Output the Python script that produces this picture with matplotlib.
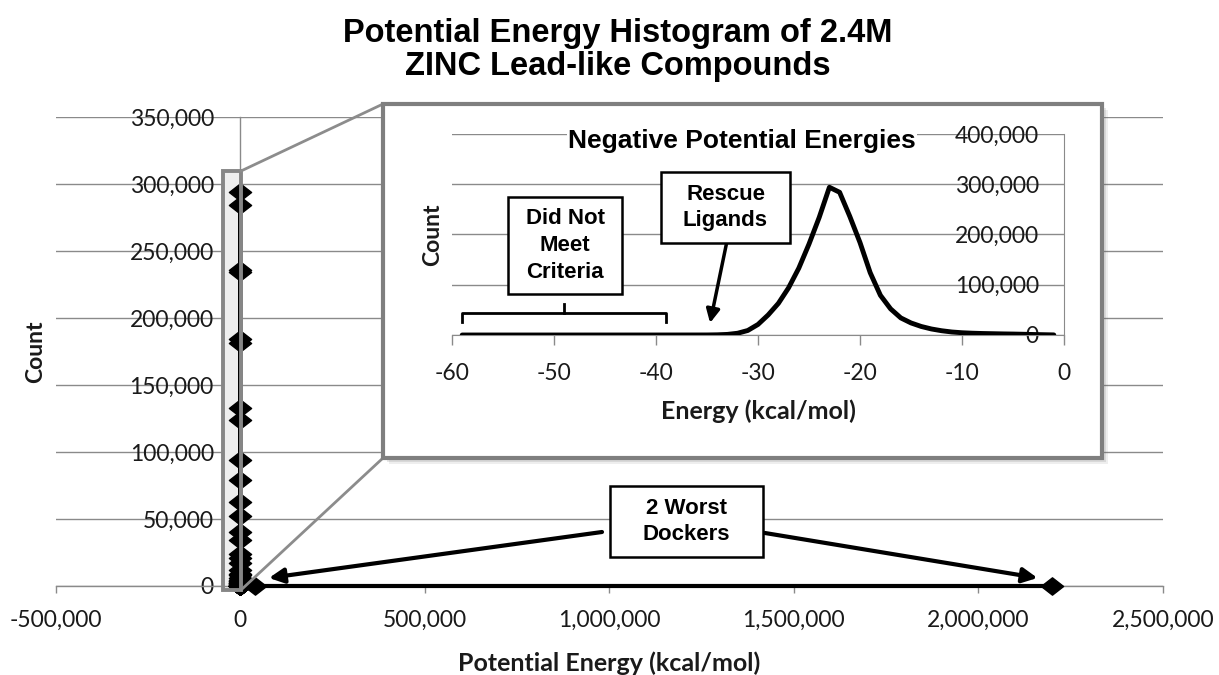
import matplotlib
matplotlib.use("Agg")
import matplotlib.pyplot as plt
from matplotlib.patches import Rectangle
from matplotlib.lines import Line2D
from matplotlib.path import Path

# ---------------- data ----------------
energy_bins = list(range(-59, 0))          # kcal/mol bin centres, -59 ... -1
counts = [
    2, 1, 3, 2, 4, 3, 5, 4, 6, 5, 8, 7,          # -59 .. -48
    9, 10, 12, 14, 15, 18, 20, 25, 30, 40, 50, 70,   # -47 .. -36
    100, 400, 1200, 3500, 9000, 21000, 40000, 63000, 94000, 133000,  # -35 .. -26
    181000, 234000, 294000, 284000, 236000, 184000, 124000, 79000,   # -25 .. -18
    52000, 34000, 24000, 17000, 12000, 8500, 6000, 4500, 3600, 3000,  # -17 .. -8
    2600, 2200, 1900, 1500, 1000, 600, 200                           # -7 .. -1
]
worst_energies = [40000, 2200000]
worst_counts = [1, 1]

main_xticks = [-500000, 0, 500000, 1000000, 1500000, 2000000, 2500000]
main_yticks = [0, 50000, 100000, 150000, 200000, 250000, 300000, 350000]
inset_xticks = [-60, -50, -40, -30, -20, -10, 0]
inset_yticks = [0, 100000, 200000, 300000, 400000]

title = "Potential Energy Histogram of 2.4M\nZINC Lead-like Compounds"
inset_title = "Negative Potential Energies"

# ---------------- layout helpers ----------------
W, H = 1219, 675
fig = plt.figure(figsize=(W / 100, H / 100), dpi=100)
fig.patch.set_facecolor("white")


def fx(p):
    return p / W


def fy(p):
    return 1 - p / H


GRID = "#8a8a8a"
TXT = "#1a1a1a"
LAB_FONT = ["Lato", "DejaVu Sans"]
ARIAL = ["Liberation Sans", "DejaVu Sans"]
ANN_SIZE = 16
ANN_LS = 1.35

diamond = Path([(-1, 0), (0, 0.78), (1, 0), (0, -0.78), (-1, 0)],
               [Path.MOVETO, Path.LINETO, Path.LINETO, Path.LINETO, Path.CLOSEPOLY])

# ---------------- main axes ----------------
L, R, T, B = 55.6, 1163, 117, 586
ax = fig.add_axes([fx(L), fy(B), fx(R) - fx(L), fy(T) - fy(B)], zorder=0)
ax.set_xlim(main_xticks[0], main_xticks[-1])
ax.set_ylim(main_yticks[0], main_yticks[-1])
ax.set_xticks(main_xticks)
ax.set_yticks(main_yticks)
ax.set_xticklabels([f"{v:,}" for v in main_xticks])
ax.set_yticklabels([f"{v:,}" for v in main_yticks])
for s in ["top", "right"]:
    ax.spines[s].set_visible(False)
ax.spines["left"].set_position(("data", 0))
ax.spines["left"].set_color(GRID)
ax.spines["bottom"].set_color(GRID)
ax.spines["left"].set_linewidth(1)
ax.spines["bottom"].set_linewidth(1)
ax.tick_params(axis="y", length=0, pad=19, labelsize=16.5, labelcolor=TXT)
ax.tick_params(axis="x", length=5, width=1, color=GRID, pad=12, labelsize=16.5, labelcolor=TXT)
for lab in ax.get_xticklabels() + ax.get_yticklabels():
    lab.set_family(LAB_FONT)
ax.yaxis.grid(True, color=GRID, lw=1)
ax.set_axisbelow(True)

ax.set_xlabel("Potential Energy (kcal/mol)", fontsize=18, fontweight="bold",
              family=LAB_FONT, color=TXT)
ax.xaxis.set_label_coords(0.5, (B - 663) / (B - T))
ax.xaxis.label.set_va("center")
ax.set_ylabel("Count", fontsize=16.5, fontweight="bold", family=LAB_FONT, color=TXT)
ax.yaxis.set_label_coords((36 - L) / (R - L), 0.5)
ax.yaxis.label.set_va("center")

# zoom-indicator box (fill)
zb = Rectangle((-46000, -3000), 48000, 312700, facecolor="#eeeeee",
               edgecolor="none", zorder=1.5, clip_on=False)
ax.add_patch(zb)

# main series
x_all = energy_bins + worst_energies
y_all = counts + worst_counts
ax.plot(x_all, y_all, color="black", lw=3, marker=diamond, ms=16,
        markerfacecolor="black", markeredgecolor="black", zorder=3, clip_on=False)

zb_edge = Rectangle((-46000, -3000), 48000, 312700, facecolor="none",
                    edgecolor="#868686", lw=2.8, zorder=4, clip_on=False)
ax.add_patch(zb_edge)

# "2 Worst Dockers" annotation
arrow_kw = dict(arrowstyle="-|>", lw=3, color="black", mutation_scale=22,
                shrinkA=0, shrinkB=0)
ax.annotate("", xy=(78000, 6000), xytext=(fx(602), fy(532)),
            textcoords="figure fraction", arrowprops=arrow_kw, zorder=5)
ax.annotate("", xy=(2160000, 6000), xytext=(fx(765), fy(533)),
            textcoords="figure fraction", arrowprops=arrow_kw, zorder=5)
fig.add_artist(Rectangle((fx(610), fy(557)), fx(763) - fx(610), fy(486) - fy(557),
                         transform=fig.transFigure, facecolor="white",
                         edgecolor="black", lw=1.8, zorder=2))
fig.text(fx(686.5), fy(521.5), "2 Worst\nDockers", ha="center", va="center",
         fontsize=ANN_SIZE, fontweight="bold", family=ARIAL, linespacing=ANN_LS, zorder=3)

# title
fig.text(fx(618), fy(50), title, ha="center", va="center", fontsize=23.5,
         fontweight="bold", family=ARIAL, linespacing=1.12, color="black")

# connector lines from zoom box to inset
fig.add_artist(Line2D([fx(241), fx(383)], [fy(171), fy(104)], transform=fig.transFigure,
                      color="#8c8c8c", lw=2, zorder=2))
fig.add_artist(Line2D([fx(241), fx(383)], [fy(590), fy(458)], transform=fig.transFigure,
                      color="#8c8c8c", lw=2, zorder=2))

# inset frame with soft shadow
bx0, bx1, by0, by1 = 383, 1102, 104, 458
for off, a in [(6, 0.10), (4, 0.15), (2, 0.25)]:
    fig.add_artist(Rectangle((fx(bx0 + off), fy(by1 + off)), fx(bx1) - fx(bx0),
                             fy(by0) - fy(by1), transform=fig.transFigure,
                             facecolor="#606060", edgecolor="none", alpha=a, zorder=4))
fig.add_artist(Rectangle((fx(bx0), fy(by1)), fx(bx1) - fx(bx0), fy(by0) - fy(by1),
                         transform=fig.transFigure, facecolor="white",
                         edgecolor="#7f7f7f", lw=3, zorder=5))

# ---------------- inset axes ----------------
iL, iR, iT, iB = 452, 1064, 134, 335
ax2 = fig.add_axes([fx(iL), fy(iB), fx(iR) - fx(iL), fy(iT) - fy(iB)], zorder=6)
ax2.patch.set_alpha(0)
ax2.set_xlim(inset_xticks[0], inset_xticks[-1])
ax2.set_ylim(inset_yticks[0], inset_yticks[-1])
ax2.set_xticks(inset_xticks)
ax2.set_yticks(inset_yticks)
ax2.set_xticklabels([f"{v}" for v in inset_xticks])
ax2.set_yticklabels([f"{v:,}" for v in inset_yticks])
for s in ["top", "right"]:
    ax2.spines[s].set_visible(False)
ax2.spines["left"].set_position(("data", 0))
ax2.spines["left"].set_color(GRID)
ax2.spines["bottom"].set_color(GRID)
ax2.tick_params(axis="y", length=0, pad=18, labelsize=16.5, labelcolor=TXT)
ax2.tick_params(axis="x", length=7, width=1, color=GRID, pad=13, labelsize=16.5, labelcolor=TXT)
for lab in ax2.get_xticklabels() + ax2.get_yticklabels():
    lab.set_family(LAB_FONT)
ax2.yaxis.grid(True, color=GRID, lw=1)
ax2.set_axisbelow(True)

ax2.plot(energy_bins, counts, color="black", lw=3.5, solid_joinstyle="round",
         solid_capstyle="round", zorder=3)

ax2.set_xlabel("Energy (kcal/mol)", fontsize=18, fontweight="bold", family=LAB_FONT, color=TXT)
ax2.xaxis.set_label_coords(0.5, (iB - 411) / (iB - iT))
ax2.xaxis.label.set_va("center")
ax2.set_ylabel("Count", fontsize=16.5, fontweight="bold", family=LAB_FONT, color=TXT)
ax2.yaxis.set_label_coords((433 - iL) / (iR - iL), 0.5)
ax2.yaxis.label.set_va("center")

fig.text(fx(742), fy(141), inset_title, ha="center", va="center", fontsize=19,
         fontweight="bold", family=ARIAL, zorder=7,
         bbox=dict(facecolor="white", edgecolor="none", pad=1))

# "Did Not Meet Criteria" bracket
ax2.plot([-59, -59, -39, -39], [26000, 44000, 44000, 26000], color="black", lw=2,
         zorder=4, clip_on=False)
ax2.plot([-49, -49], [44000, 62000], color="black", lw=2, zorder=4, clip_on=False)
fig.add_artist(Rectangle((fx(508), fy(294)), fx(622) - fx(508), fy(197) - fy(294),
                         transform=fig.transFigure, facecolor="white",
                         edgecolor="black", lw=1.8, zorder=7))
fig.text(fx(565), fy(245.5), "Did Not\nMeet\nCriteria", ha="center", va="center",
         fontsize=ANN_SIZE, fontweight="bold", family=ARIAL, linespacing=ANN_LS, zorder=8)

# "Rescue Ligands" arrow + box
ax2.annotate("", xy=(-34.7, 24000), xytext=(-33.1, 181000),
             arrowprops=dict(arrowstyle="-|>", lw=2.5, color="black",
                             mutation_scale=20, shrinkA=0, shrinkB=0), zorder=5)
fig.add_artist(Rectangle((fx(661), fy(243)), fx(790) - fx(661), fy(172) - fy(243),
                         transform=fig.transFigure, facecolor="white",
                         edgecolor="black", lw=1.8, zorder=7))
fig.text(fx(725.5), fy(207.5), "Rescue\nLigands", ha="center", va="center",
         fontsize=ANN_SIZE, fontweight="bold", family=ARIAL, linespacing=ANN_LS, zorder=8)

fig.savefig("out.png", dpi=100, facecolor="white")
